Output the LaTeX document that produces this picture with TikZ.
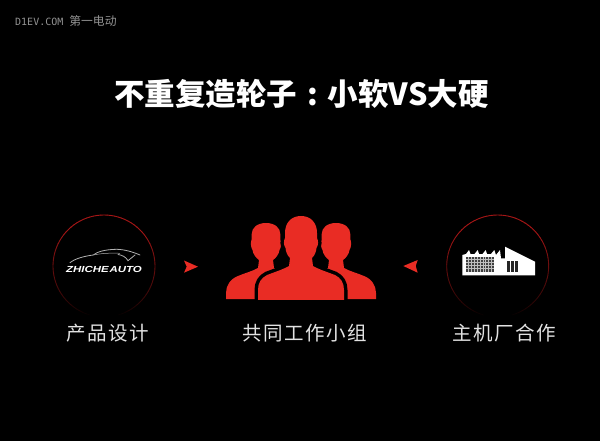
\documentclass[tikz,border=0pt]{standalone}
\usepackage{fontspec}
\setmainfont{Liberation Sans}
\newfontfamily\cjktitle{Noto Sans CJK SC}
\newfontfamily\cjklabel[LetterSpace=7.7]{Noto Sans CJK SC}
\newfontfamily\cjkmark{Noto Sans CJK SC}
\newfontfamily\monomark{DejaVu Sans Mono}
\definecolor{ringred}{RGB}{165,22,22}
\definecolor{figred}{RGB}{233,44,36}
\definecolor{labelgrey}{RGB}{226,226,226}
\tikzset{
  x=1pt,y=-1pt,
  steplabel/.style={text=labelgrey,inner sep=0pt,font=\cjklabel\fontsize{19.5}{21}\selectfont},
  person/.style={fill=figred},
  pointer/.style={fill=figred},
}
\newcommand{\fadering}[3]{%
  \foreach \a in {0,4,...,176}{%
    \pgfmathtruncatemacro{\p}{\a<45?100:max(0,(165-\a)/120*100)}%
    \pgfmathsetmacro{\b}{\a+4.4}%
    \draw[ringred!\p!black,line width=.9pt] ({#1+#3*sin(\a)},{#2-#3*cos(\a)}) -- ({#1+#3*sin(\b)},{#2-#3*cos(\b)});
    \draw[ringred!\p!black,line width=.9pt] ({#1-#3*sin(\a)},{#2-#3*cos(\a)}) -- ({#1-#3*sin(\b)},{#2-#3*cos(\b)});
  }%
}
\def\sideperson{
  (226,299) -- (226,293) .. controls (226,286) and (230,279) .. (238,276)
  .. controls (245,273) and (253,271) .. (258,268)
  -- (259,260) .. controls (256,258) and (253,254) .. (252.5,250)
  .. controls (250.5,247) and (250.5,242) .. (251.7,239)
  -- (251.7,234) .. controls (251.7,228) and (257,223) .. (266,223)
  .. controls (275,223) and (280.3,228) .. (280.3,234) -- (280.3,239)
  .. controls (281.5,242) and (281.5,247) .. (279.5,250)
  .. controls (279,254) and (276,258) .. (273,260)
  -- (274,268) .. controls (279,271) and (287,273) .. (295,276)
  -- (295,299) -- cycle}
\def\mainperson{
  (258,303) -- (258,290) .. controls (258,283) and (261,278) .. (267,275)
  .. controls (275,272) and (284,269) .. (289,266)
  -- (290,258) .. controls (287,255) and (286,252) .. (285.5,248)
  .. controls (283.5,245) and (283.5,241) .. (285,238)
  -- (285,233) .. controls (285,223) and (291,216) .. (301,216)
  .. controls (311,216) and (317,223) .. (317,233) -- (317,238)
  .. controls (318.5,241) and (318.5,245) .. (316.5,248)
  .. controls (316,252) and (315,255) .. (312,258)
  -- (313,266) .. controls (318,269) and (327,272) .. (335,275)
  .. controls (341,278) and (344,283) .. (344,290) -- (344,303) -- cycle}
\begin{document}
\begin{tikzpicture}
\useasboundingbox[fill=black] (0,0) rectangle (600,441);
% watermark
\node[anchor=west,inner sep=0pt,text=gray!85] (mark) at (15,21) {\monomark\fontsize{10}{12}\selectfont D1EV.COM\hspace{6pt}\cjkmark\fontsize{11.8}{12}\selectfont 第一电动};
% title
\node[text=white,inner sep=0pt] (title) at (301.5,94) {\cjktitle\bfseries\fontsize{30.5}{32}\selectfont 不重复造轮子\makebox[1em][c]{:}小软VS大硬};
% rings
\fadering{104}{266}{51}
\fadering{497.7}{266}{51}
% car logo
\draw[gray!60!white,line width=.8pt,line cap=round] (70,262.7) .. controls (75,258.5) and (85,256) .. (93.3,255)
  .. controls (97,252) and (104,249.5) .. (116.7,249.3) .. controls (125,249.5) and (133,252) .. (140,255);
\draw[gray!60!white,line width=.5pt] (93.3,255) .. controls (103,253) and (112,253) .. (120,253.3);
\draw[gray!60!white,line width=.8pt,line cap=round] (118,254.5) .. controls (122,255) and (126,257) .. (128,260.7) -- (135,255);
\node[text=white,inner sep=0pt] (logo) at (104,269) {\scalebox{1.3}[1]{\fontsize{8.8}{10}\selectfont\bfseries\itshape ZHICHE\kern.6pt AUTO}};
% arrows
\fill[pointer] (184,260.5) -- (198,266.7) -- (184,272.7) -- (186.7,266.7) -- cycle;
\fill[pointer] (417.7,260) -- (403.3,266) -- (417.7,272.7) -- (415.7,266) -- cycle;
% people
\begin{scope}
\clip (200,200) rectangle (400,299);
\fill[person] \sideperson;
\begin{scope}[xshift=602pt,xscale=-1]
\fill[person] \sideperson;
\end{scope}
\draw[black,line width=7pt,line join=round] \mainperson;
\fill[person] \mainperson;
\end{scope}
% factory
\fill[white] (462.3,275.3) -- (462.3,255) -- (466,254) -- (469,250) -- (470.5,254) -- (474.5,254) -- (477.7,250) -- (479,254) -- (482.5,254) -- (485.7,250) -- (487,254) -- (491,254) -- (494.3,250) -- (496,255) -- (500,250) -- (501,258.3) -- (505,258.3) -- (505,246.7) -- (535,261.7) -- (535,275.3) -- cycle;
\fill[black!75] (466,256.7) rectangle (494.3,272.3);
\foreach \i in {0,1,...,8}{\fill[white!75!black] ({468+\i*2.9},256.7) rectangle ({468.7+\i*2.9},272.3);}
\foreach \i in {0,1,2,3}{\fill[white!75!black] (466,{259.3+\i*3}) rectangle (494.3,{259.9+\i*3});}
\fill[black!85] (506.7,260.7) rectangle (518.3,271.7);
\foreach \i in {0,1}{\fill[white] ({510+\i*4},260.7) rectangle ({511.2+\i*4},271.7);}
% labels
\node[steplabel] (design) at (108,333) {产品设计};
\node[steplabel] (team) at (304.8,333) {共同工作小组};
\node[steplabel] (oem) at (504,333) {主机厂合作};
\end{tikzpicture}
\end{document}
